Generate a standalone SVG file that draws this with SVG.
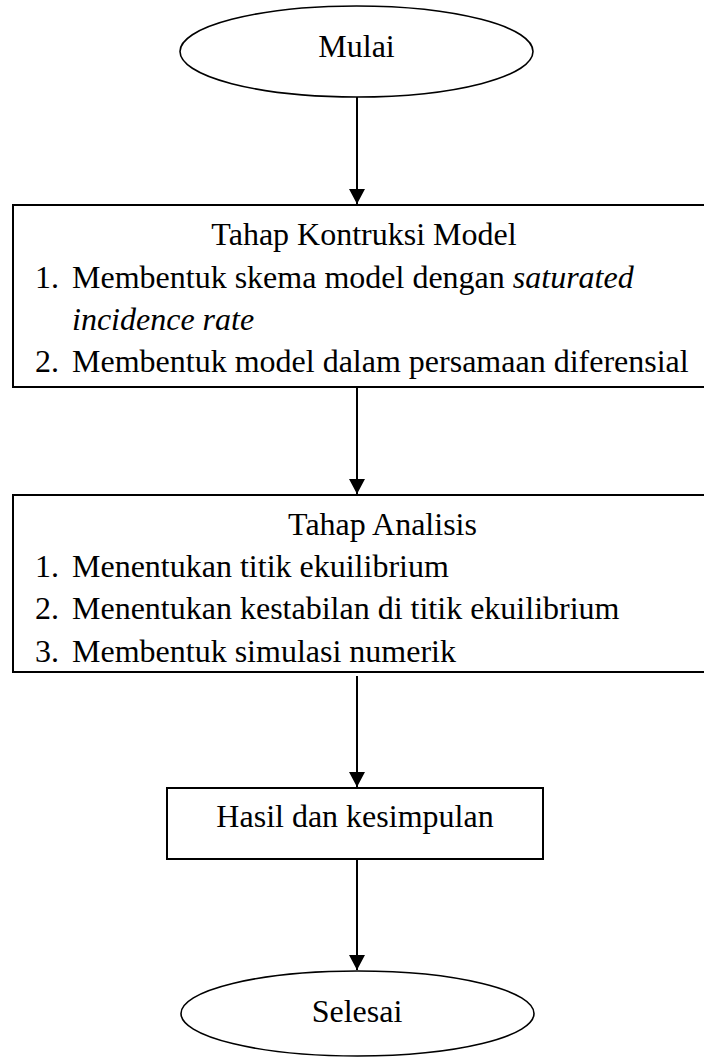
<svg xmlns="http://www.w3.org/2000/svg" width="704" height="1058" viewBox="0 0 704 1058">
<style>
text{font-family:"Liberation Serif","Times New Roman",serif;font-size:32px;fill:#000}
.c{text-anchor:middle}
.i{font-style:italic}
.box{fill:#fff;stroke:#000;stroke-width:2}
.ell{fill:#fff;stroke:#000;stroke-width:1.6}
.ln{stroke:#000;stroke-width:2;fill:none}
</style>
<defs>
<marker id="arr" markerUnits="userSpaceOnUse" markerWidth="15" markerHeight="16" viewBox="0 0 15 16" refX="15" refY="8" orient="auto">
<path d="M0,0 L15,8 L0,16 z" fill="#000"/>
</marker>
</defs>
<rect width="704" height="1058" fill="#fff"/>
<g id="connectors">
<line class="ln" x1="357" y1="97" x2="357" y2="204" marker-end="url(#arr)"/>
<line class="ln" x1="357" y1="387" x2="357" y2="494" marker-end="url(#arr)"/>
<line class="ln" x1="357" y1="676" x2="357" y2="787" marker-end="url(#arr)"/>
<line class="ln" x1="357" y1="859" x2="357" y2="970" marker-end="url(#arr)"/>
</g>
<g id="mulai">
<ellipse class="ell" cx="356.5" cy="51.5" rx="176.5" ry="45.5"/>
<text class="c" x="356.5" y="57">Mulai</text>
</g>
<g id="konstruksi">
<rect class="box" x="13" y="205" width="700" height="182"/>
<text class="c" x="364" y="245">Tahap Kontruksi Model</text>
<text x="35" y="288">1.</text>
<text x="72" y="288">Membentuk skema model dengan <tspan class="i">saturated</tspan></text>
<text class="i" x="72" y="330">incidence rate</text>
<text x="35" y="372">2.</text>
<text x="72" y="372">Membentuk model dalam persamaan diferensial</text>
</g>
<g id="analisis">
<rect class="box" x="13" y="495" width="700" height="177"/>
<text class="c" x="382.5" y="535">Tahap Analisis</text>
<text x="35" y="577">1.</text>
<text x="72" y="577">Menentukan titik ekuilibrium</text>
<text x="35" y="619">2.</text>
<text x="72" y="619">Menentukan kestabilan di titik ekuilibrium</text>
<text x="35" y="662">3.</text>
<text x="72" y="662">Membentuk simulasi numerik</text>
</g>
<g id="hasil">
<rect class="box" x="167" y="788" width="376" height="71"/>
<text class="c" x="355" y="827">Hasil dan kesimpulan</text>
</g>
<g id="selesai">
<ellipse class="ell" cx="357.5" cy="1013.5" rx="176.5" ry="42.5"/>
<text class="c" x="357" y="1022">Selesai</text>
</g>
</svg>
